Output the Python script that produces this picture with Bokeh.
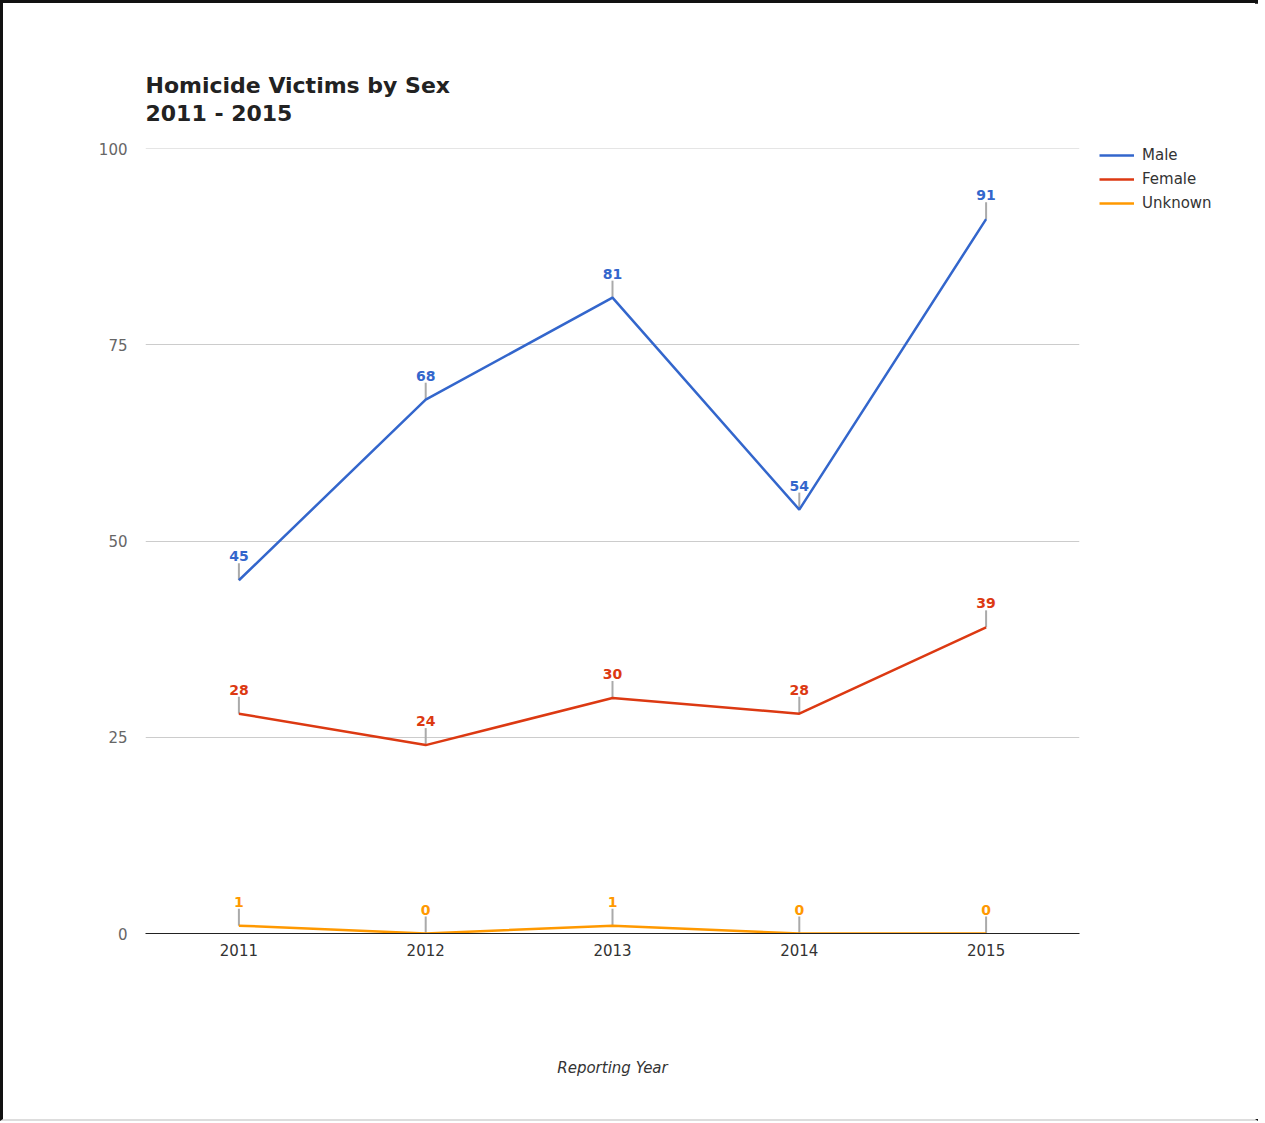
import math
from bokeh.plotting import figure
from bokeh.models import ColumnDataSource, FixedTicker, Legend, LegendItem, Title, Span
from bokeh.core.properties import value
from bokeh.embed import file_html
from bokeh.resources import INLINE

years = [2011, 2012, 2013, 2014, 2015]
male = [45, 68, 81, 54, 91]
female = [28, 24, 30, 28, 39]
unknown = [1, 0, 1, 0, 0]
y_ticks = [0, 25, 50, 75, 100]

series = [("Male", male, "#3366CC"), ("Female", female, "#DC3912"), ("Unknown", unknown, "#FF9900")]

FONT = "DejaVu Sans"

p = figure(width=1256, height=1116, output_backend="svg", toolbar_location=None,
           x_range=(2010.5, 2015.5), y_range=(0, 100),
           frame_width=934, frame_height=785,
           min_border_left=142, min_border_top=145, min_border_right=180, min_border_bottom=186)
p.styles = {"border-left": "3px solid #111111", "border-top": "3px solid #111111",
            "border-right": "3px solid #111111", "border-bottom": "2px solid #DDDDDD",
            "width": "1258px"}
p.outline_line_color = None

p.title = Title(text="Homicide Victims by Sex\n2011 - 2015", align="left", offset=0,
                text_font=FONT, text_font_size="22px", text_font_style="bold",
                text_color="#222222", text_line_height=1.1, standoff=46)

p.xaxis.ticker = FixedTicker(ticks=years)
p.yaxis.ticker = FixedTicker(ticks=y_ticks)
p.xgrid.grid_line_color = None
p.ygrid.grid_line_color = "#CCCCCC"
p.ygrid.grid_line_width = 1
p.add_layout(Span(location=y_ticks[-1], dimension="width", line_color="#CCCCCC", line_width=1))

p.yaxis.axis_line_color = None
p.yaxis.major_tick_line_color = None
p.yaxis.minor_tick_line_color = None
p.yaxis.major_label_standoff = 12
p.yaxis.major_label_text_font = FONT
p.yaxis.major_label_text_font_size = "15px"
p.yaxis.major_label_text_color = "#666666"

p.xaxis.axis_line_color = "#222222"
p.xaxis.axis_line_width = 1
p.xaxis.major_tick_line_color = None
p.xaxis.minor_tick_line_color = None
p.xaxis.major_label_standoff = 4
p.xaxis.major_label_text_font = FONT
p.xaxis.major_label_text_font_size = "15px"
p.xaxis.major_label_text_color = "#333333"
p.xaxis.axis_label = "Reporting Year"
p.xaxis.axis_label_text_font = FONT
p.xaxis.axis_label_text_font_style = "italic"
p.xaxis.axis_label_text_font_size = "15px"
p.xaxis.axis_label_text_color = "#333333"
p.xaxis.axis_label_standoff = 100

items = []
for name, vals, color in series:
    src = ColumnDataSource(dict(x=years, y=vals, t=[str(v) for v in vals]))
    p.ray(x="x", y="y", length=17, angle=math.pi / 2, length_units="screen",
          line_color="#AAAAAA", line_width=2, source=src)
    r = p.line(x="x", y="y", line_color=color, line_width=2.5, source=src)
    p.text(x="x", y="y", text="t", source=src, text_color=color, text_align="center",
           text_baseline="bottom", y_offset=-19, text_font=value(FONT), text_font_size="14px",
           text_font_style="bold")
    items.append(LegendItem(label=name, renderers=[r]))

legend = Legend(items=items, location=(20, 721), margin=0, padding=0,
                glyph_width=35, glyph_height=14, label_height=14, spacing=6,
                label_standoff=8, label_text_font=FONT, label_text_font_size="15px",
                label_text_color="#333333", border_line_color=None,
                background_fill_alpha=0)
p.add_layout(legend, "right")

open("out.html", "w").write(file_html(p, INLINE))
